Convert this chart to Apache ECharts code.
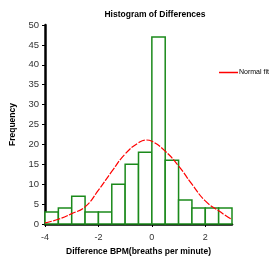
<!DOCTYPE html>
<html>
<head>
<meta charset="utf-8">
<script src="https://cdn.jsdelivr.net/npm/echarts@6/dist/echarts.min.js"></script>
<style>
  html, body { margin: 0; padding: 0; background: #fff; }
  #chart { width: 269px; height: 261px; }
</style>
</head>
<body>
<div id="chart"></div>
<script>
// bin edges (width 0.5) and counts
const binStarts = [-4, -3.5, -3, -2.5, -2, -1.5, -1, -0.5, 0, 0.5, 1, 1.5, 2, 2.5]
const binCounts = [3, 4, 7, 3, 3, 10, 15, 18, 47, 16, 6, 4, 4, 4]
const binWidth = 0.5

// normal fit curve
const fitX = [-4, -3.5, -3, -2.5, -2, -1.5, -1, -0.5, -0.2, 0, 0.5, 1, 1.5, 2, 2.5, 3]
const fitY = [0.3, 1.2, 2.6, 4.3, 8.5, 13.2, 17.6, 20.4, 21.1, 20.8, 18.3, 14.6, 10, 5.8, 3.3, 1.1]

const chart = echarts.init(document.getElementById('chart'))

const bars = binStarts.map((s, i) => [s, s + binWidth, binCounts[i]])
const fit = fitX.map((x, i) => [x, fitY[i]])

const font = 'Liberation Sans, Arial, sans-serif'

chart.setOption({
  animation: false,
  title: {
    text: 'Histogram of Differences',
    left: 150,
    textAlign: 'center',
    top: 5,
    textStyle: { fontSize: 8.5, fontWeight: 'bold', color: '#000', fontFamily: font }
  },
  legend: {
    data: [{ name: 'Normal fit', icon: 'rect' }],
    left: 219,
    top: 69,
    padding: 0,
    itemWidth: 19,
    itemHeight: 1.5,
    itemGap: 2,
    textStyle: { fontSize: 7, color: '#000', fontFamily: font, padding: [0, 0, 0, -4] }
  },
  grid: { left: 45, right: 37, top: 25, bottom: 36 },
  xAxis: {
    type: 'value',
    min: -4,
    max: 3,
    interval: 2,
    name: 'Difference BPM(breaths per minute)',
    nameLocation: 'middle',
    nameGap: 23,
    nameTextStyle: { fontSize: 8.5, fontWeight: 'bold', color: '#000', fontFamily: font },
    axisLine: { onZero: false, lineStyle: { color: '#000', width: 2.5 } },
    axisTick: { show: true, length: 3, lineStyle: { color: '#000' } },
    axisLabel: { fontSize: 9, color: '#333', fontFamily: font, margin: 9, showMaxLabel: false },
    splitLine: { show: false }
  },
  yAxis: {
    type: 'value',
    min: 0,
    max: 50,
    interval: 5,
    name: 'Frequency',
    nameLocation: 'middle',
    nameGap: 25,
    nameTextStyle: { fontSize: 8.5, fontWeight: 'bold', color: '#000', fontFamily: font },
    axisLine: { show: true, onZero: false, lineStyle: { color: '#000', width: 2.5 } },
    axisTick: { show: true, length: 3, lineStyle: { color: '#000' } },
    axisLabel: { fontSize: 9.5, color: '#333', fontFamily: font, margin: 6 },
    splitLine: { show: false }
  },
  series: [
    {
      name: 'Counts',
      type: 'custom',
      data: bars,
      encode: { x: [0, 1], y: 2 },
      renderItem: function (params, api) {
        const p0 = api.coord([api.value(0), api.value(2)])
        const p1 = api.coord([api.value(1), 0])
        return {
          type: 'rect',
          shape: { x: p0[0], y: p0[1], width: p1[0] - p0[0], height: p1[1] - p0[1] },
          style: { fill: '#fff', stroke: '#1b8a1b', lineWidth: 1.5 }
        }
      }
    },
    {
      name: 'Normal fit',
      type: 'line',
      data: fit,
      smooth: true,
      symbol: 'none',
      z: 5,
      lineStyle: { color: '#ff0000', width: 1.2, type: [7, 1.5] },
      itemStyle: { color: '#ff0000' }
    }
  ]
})

window.onresize = function () {
  chart.resize()
}
</script>
</body>
</html>
